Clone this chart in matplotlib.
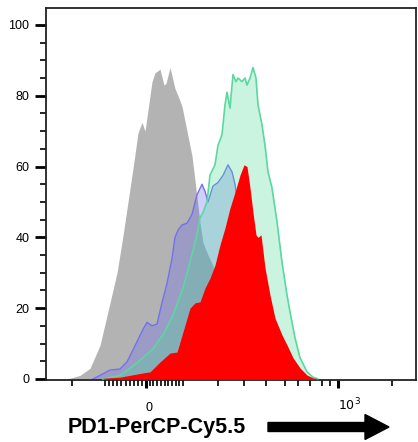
import matplotlib
matplotlib.use("Agg")
import matplotlib.pyplot as plt
import numpy as np
from matplotlib.patches import FancyArrow

plt.rcParams['font.family'] = ['Liberation Sans', 'DejaVu Sans']

# histogram data (x in display channels, y in % of max)
gray_x = [16, 24, 34, 44, 54, 64, 71, 77, 82, 87, 92, 96, 99, 102, 106, 109, 114, 118, 120, 124,
          129, 132, 136, 141, 146, 149, 154, 157, 162, 167, 171, 179, 189, 199, 209]
gray_y = [0, 0.2, 1.0, 3.0, 9.5, 21.5, 30, 40.5, 50, 59.5, 69.5, 72.5, 70, 76, 84, 86.5, 87.5, 83, 83.5, 88,
          82, 80, 77, 70, 63, 56, 44, 38.5, 35, 32, 26, 15, 5, 1, 0]

blue_x = [47, 54, 64, 74, 81, 91, 97, 101, 106, 111, 116, 121, 126, 129, 132, 136, 141, 146, 151, 156,
          159, 162, 167, 172, 177, 182, 186, 189, 194, 204, 214, 224, 234, 244, 254]
blue_y = [0, 1, 2.5, 2.8, 4.8, 10.5, 14, 16, 15, 15.5, 21.5, 27, 34, 40, 42, 43.5, 44, 46.5, 52, 55,
          53, 50, 54.5, 55.5, 57.5, 60.5, 58.5, 55, 45, 35, 25, 15, 7, 2, 0]

green_x = [57, 74, 84, 97, 107, 117, 127, 137, 144, 151, 154, 157, 161, 164, 169, 172, 176, 179, 181, 184,
           187, 190, 192, 196, 199, 201, 204, 207, 210, 212, 216, 219, 222, 226, 231, 236, 241, 244, 249, 254,
           261, 267, 272]
green_y = [0, 1, 3, 6, 8.5, 12.5, 18, 25.7, 33, 40.7, 45.5, 47, 50, 57.6, 60.5, 66, 69, 77.4, 81, 76.5,
           86, 84, 85, 84, 85, 83, 85, 88, 85, 77.4, 71.8, 66, 58.5, 54, 44.4, 33, 23.7, 19, 11.6, 6,
           2, 0.5, 0]

red_x = [57, 74, 97, 104, 114, 124, 131, 137, 144, 149, 154, 159, 164, 169, 174, 179, 184, 189, 194, 198,
         201, 204, 207, 210, 212, 215, 219, 224, 229, 236, 241, 247, 254, 261, 267, 274]
red_y = [0.2, 0.5, 1.7, 2, 4.8, 7.3, 7.6, 13.3, 20, 21.5, 21.8, 25.7, 28.5, 32.2, 37.9, 42.7, 48.3, 52.8, 57.6, 60.5,
         60, 54, 47, 40.7, 40, 40.7, 31.4, 23.7, 17.2, 12.4, 9.6, 6, 3.1, 1.1, 0.3, 0]

# axis ticks (logicle-style)
x_major = [100, 292]
x_major_labels = ['0', '$10^3$']
x_minor = [26, 59, 137, 172, 198, 220, 239, 252, 264, 276, 284, 346]
x_minor += list(np.linspace(59, 100, 11)[1:-1]) + list(np.linspace(100, 137, 11)[1:-1])
y_major = [0, 20, 40, 60, 80, 100]
y_minor = [5, 10, 15, 25, 30, 35, 45, 50, 55, 65, 70, 75, 85, 90, 95]

fig = plt.figure(figsize=(4.18, 4.42), dpi=100)
ax = fig.add_axes([46 / 418, 1 - 380 / 442, 370 / 418, 372 / 442])

ax.fill_between(gray_x, gray_y, 0, color='#b3b3b3', lw=0, zorder=1)
ax.fill_between(blue_x, blue_y, 0, color='#6464f0', alpha=0.3, lw=0, zorder=2)
ax.plot(blue_x, blue_y, color='#7070ee', lw=1, zorder=2)
ax.fill_between(green_x, green_y, 0, color='#50dc96', alpha=0.3, lw=0, zorder=3)
ax.plot(green_x, green_y, color='#5ad8a0', lw=1.2, zorder=3)
ax.fill_between(red_x, red_y, 0, color='#ff0000', lw=0, zorder=4)

ax.set_xlim(0, 370)
ax.set_ylim(-0.3, 104.8)

ax.set_xticks(x_major)
ax.set_xticklabels(x_major_labels)
ax.set_xticks(x_minor, minor=True)
ax.set_yticks(y_major)
ax.set_yticks(y_minor, minor=True)

ax.tick_params(axis='both', which='major', direction='out', colors='black', labelsize=9)
ax.tick_params(axis='y', which='major', length=8, width=2, pad=4)
ax.tick_params(axis='y', which='minor', length=4.5, width=1.2)
ax.tick_params(axis='x', which='major', length=6, width=2.2, pad=16)
ax.tick_params(axis='x', which='minor', length=4, width=1.2)
for lab in ax.get_xticklabels():
    lab.set_verticalalignment('baseline')
    lab.set_horizontalalignment('left')

for s in ax.spines.values():
    s.set_linewidth(1.3)
    s.set_color('#222222')

fig.text(68 / 418, (442 - 428) / 442, 'PD1-PerCP-Cy5.5', fontsize=15.5,
         fontweight='bold', ha='left', va='center')
fig.patches.append(FancyArrow(2.68, 0.15, 1.21, 0, width=0.09, head_width=0.25,
                              head_length=0.24, length_includes_head=True,
                              color='black', transform=fig.dpi_scale_trans))

fig.savefig('out.png', dpi=100)
